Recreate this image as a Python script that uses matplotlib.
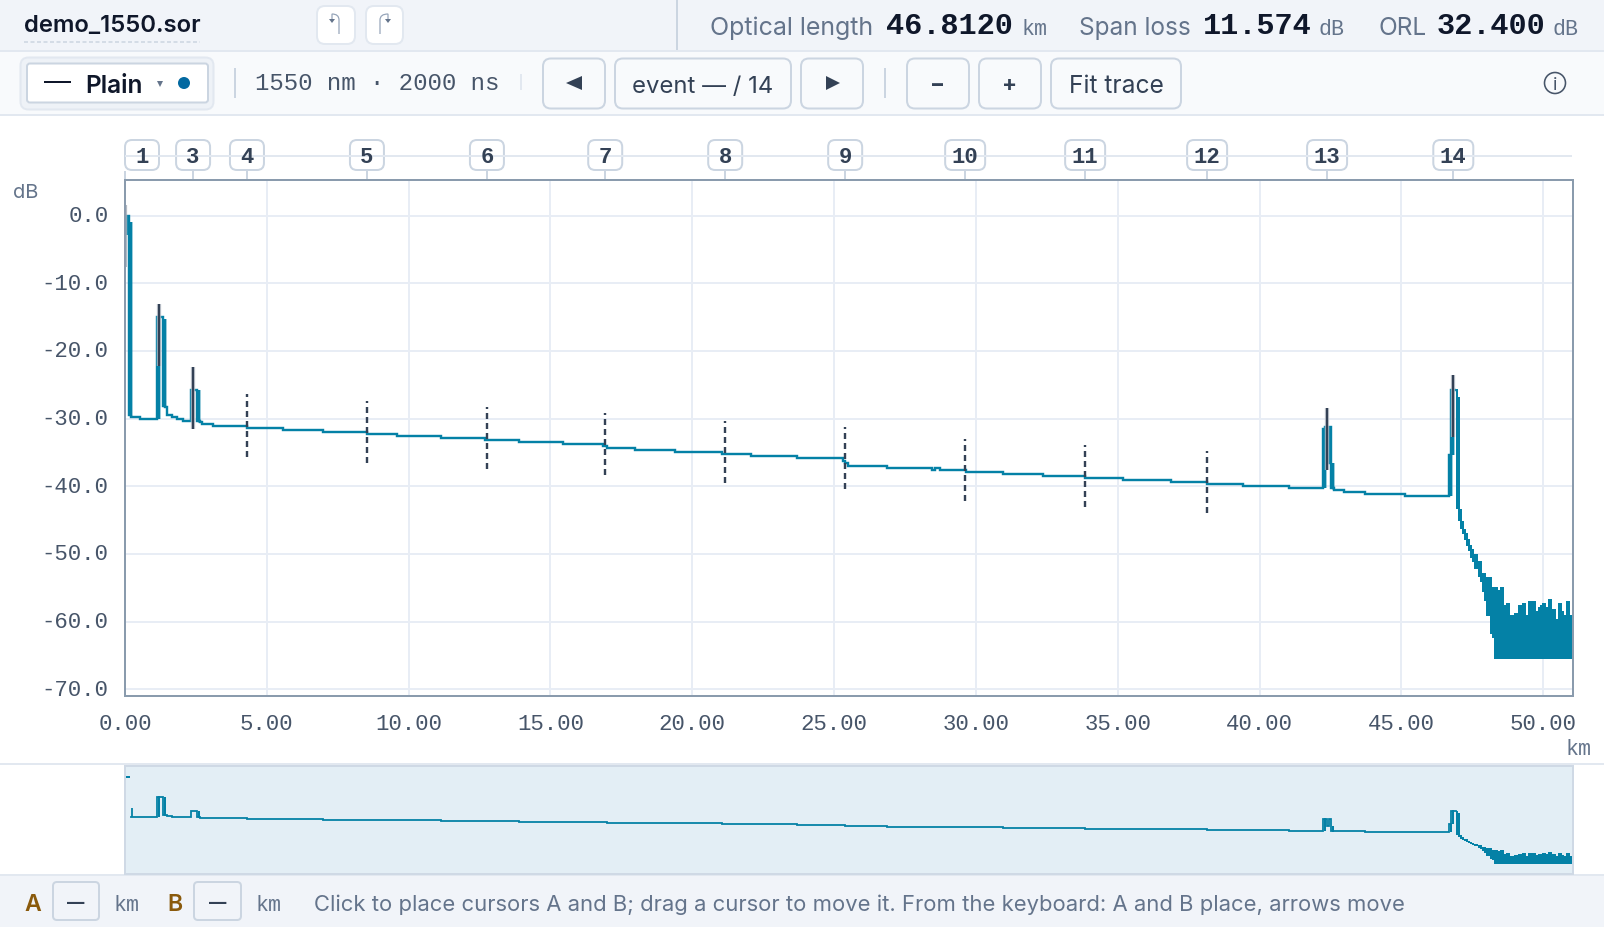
import matplotlib
matplotlib.use("Agg")
import matplotlib.pyplot as plt
from matplotlib.patches import FancyBboxPatch, Circle, Polygon, PathPatch
from matplotlib.path import Path
from matplotlib.transforms import blended_transform_factory

plt.rcParams['lines.scale_dashes'] = False
plt.rcParams['axes.unicode_minus'] = False

SANS = ['Inter', 'Noto Sans', 'DejaVu Sans']
MONO = ['Liberation Mono', 'DejaVu Sans Mono']
W, H = 1604, 928
PX = 0.72

# ---------- data ----------
trace_km = [0.07, 0.07, 0.14, 0.14, 0.21, 0.21, 0.21, 0.53, 1.13, 1.13, 1.20, 1.20, 1.20, 1.34, 1.34, 1.41, 1.41, 1.41,
            1.47, 1.64, 1.82, 2.03, 2.34, 2.34, 2.54, 2.54, 2.61, 2.61, 2.61, 2.64, 2.70, 3.09, 4.30, 5.57, 6.98, 8.53,
            9.58, 11.13, 12.68, 13.88, 15.44, 16.86, 17.00, 17.97, 19.38, 21.05, 22.08, 23.69, 25.33, 25.40, 25.49,
            26.87, 28.45, 28.55, 28.72, 29.64, 30.96, 32.37, 33.84, 35.18, 36.88, 38.15, 39.40, 41.04, 42.25, 42.25,
            42.32, 42.32, 42.32, 42.39, 42.39, 42.46, 42.46, 42.53, 42.53, 42.60, 42.60, 42.60, 42.63, 42.96, 43.72,
            45.13, 46.69, 46.69, 46.76, 46.76, 46.76, 46.83, 46.83, 46.83, 46.90, 46.93]
trace_db = [-2.9, -0.05, -0.05, -29.4, -29.4, -0.9, -29.7, -30.05, -30.05, -15.05, -15.05, -30.05, -15.05, -15.3, -28.2,
            -28.2, -15.3, -28.3, -29.45, -29.75, -30.05, -30.4, -30.4, -25.75, -25.75, -30.3, -30.3, -25.75, -30.3,
            -30.55, -30.8, -31.1, -31.4, -31.7, -32.0, -32.3, -32.55, -32.85, -33.15, -33.45, -33.75, -34.05, -34.3,
            -34.6, -34.9, -35.2, -35.5, -35.8, -36.2, -36.6, -37.0, -37.3, -37.6, -37.3, -37.6, -37.9, -38.2, -38.5,
            -38.75, -39.05, -39.35, -39.65, -39.95, -40.25, -40.25, -31.55, -31.55, -40.25, -31.2, -31.2, -36.6, -36.6,
            -31.2, -31.2, -40.2, -40.2, -36.6, -40.3, -40.5, -40.8, -41.1, -41.4, -41.4, -35.4, -35.4, -41.4, -25.75,
            -25.75, -35.4, -25.75, -25.75, -25.75]

tail_km = [46.93, 47.00, 47.07, 47.14, 47.21, 47.28, 47.36, 47.43, 47.50, 47.57, 47.64, 47.71, 47.78, 47.85, 47.92,
           47.99, 48.06, 48.13, 48.20, 48.27, 48.34, 48.41, 48.48, 48.55, 48.62, 48.69, 48.76, 48.83, 48.90, 48.97,
           49.04, 49.11, 49.18, 49.25, 49.32, 49.40, 49.47, 49.54, 49.61, 49.68, 49.75, 49.82, 49.89, 49.96, 50.03,
           50.10, 50.17, 50.24, 50.31, 50.38, 50.45, 50.52, 50.59, 50.66, 50.73, 50.80, 50.87, 50.94, 51.05]
tail_top = [-25.6, -26.8, -43.3, -45.1, -46.3, -46.9, -47.8, -48.7, -49.3, -50.0, -50.0, -51.0, -51.0, -52.8, -52.8,
            -53.4, -53.4, -53.4, -54.9, -54.9, -54.9, -55.4, -54.9, -54.9, -57.5, -57.2, -57.2, -59.0, -59.0, -58.7,
            -58.7, -57.5, -57.5, -57.2, -57.2, -59.0, -57.0, -57.0, -57.0, -57.0, -58.4, -57.9, -57.5, -57.2, -57.2,
            -57.9, -56.6, -56.6, -58.1, -58.1, -59.6, -57.2, -57.2, -58.4, -59.0, -57.0, -57.0, -59.0, -59.0]
tail_bot = [-43.3, -45.1, -46.3, -47.0, -48.0, -48.8, -49.5, -50.6, -51.2, -52.2, -52.2, -53.4, -54.2, -55.7, -56.9,
            -59.2, -59.2, -61.8, -62.5, -65.5, -65.5, -65.5, -65.5, -65.5, -65.5, -65.5, -65.5, -65.5, -65.5, -65.5,
            -65.5, -65.5, -65.5, -65.5, -65.5, -65.5, -65.5, -65.5, -65.5, -65.5, -65.5, -65.5, -65.5, -65.5, -65.5,
            -65.5, -65.5, -65.5, -65.5, -65.5, -65.5, -65.5, -65.5, -65.5, -65.5, -65.5, -65.5, -65.5, -65.5]

event_names = ['1', '', '3', '4', '5', '6', '7', '8', '9', '10', '11', '12', '13', '14']
event_km = [0.0, 1.20, 2.40, 4.30, 8.53, 12.76, 16.93, 21.16, 25.39, 29.62, 33.85, 38.15, 42.38, 46.83]
event_db = [-3.05, -17.6, -26.9, -31.0, -31.95, -32.85, -33.75, -34.9, -35.8, -37.55, -38.45, -39.35, -33.0, -28.1]
event_reflective = [True, True, True, False, False, False, False, False, False, False, False, False, True, True]
event_half_span = 4.6

x_ticks = [0, 5, 10, 15, 20, 25, 30, 35, 40, 45, 50]
x_labels = ['0.00', '5.00', '10.00', '15.00', '20.00', '25.00', '30.00', '35.00', '40.00', '45.00', '50.00']
y_ticks = [0, -10, -20, -30, -40, -50, -60, -70]
y_labels = ['0.0', '-10.0', '-20.0', '-30.0', '-40.0', '-50.0', '-60.0', '-70.0']

overview_head_km = [0.05, 0.16]
overview_head_db = [0.0, 0.0]
overview_lead_km = [0.23, 0.23]
overview_lead_db = [-23.0, -29.7]
overview_skip = 6   # trace vertices before the overview picks it up

# ---------- colours ----------
TRACE = '#0481a6'
GRID = '#e8edf5'
SPINE = '#8a9bad'
INK = '#0f172a'
SLATE = '#334155'
MUTED = '#64748b'
TICK = '#475569'
LINE = '#cbd5e1'
AMBER = '#8a5a0c'

fig = plt.figure(figsize=(W / 100, H / 100), dpi=100, facecolor='white')

ui = fig.add_axes([0, 0, 1, 1], zorder=0)
ui.set_xlim(0, W)
ui.set_ylim(H, 0)
ui.axis('off')


def band(y0, y1, color):
    ui.fill_between([0, W], y0, y1, color=color, lw=0)


def hline(x0, x1, y, color, w=2, **kw):
    ui.plot([x0, x1], [y, y], color=color, lw=w * PX, solid_capstyle='butt', **kw)


def vline(x, y0, y1, color, w=2):
    ui.plot([x, x], [y0, y1], color=color, lw=w * PX, solid_capstyle='butt')


def box(x0, y0, x1, y1, face, edge, r=7, w=2):
    ui.add_patch(FancyBboxPatch((x0 + r, y0 + r), x1 - x0 - 2 * r, y1 - y0 - 2 * r,
                                boxstyle=f'round,pad={r},rounding_size={r}',
                                fc=face, ec=edge, lw=w * PX, mutation_aspect=1))


def label(x, y, s, size, color, fam=SANS, ha='left', weight='normal'):
    return ui.text(x, y, s, fontsize=size, color=color, family=fam, ha=ha, va='center_baseline', weight=weight)


# bands
band(0, 51.5, '#f1f4f9')
band(51.5, 115.5, '#f8fafc')
band(876, 928, '#f1f4f9')
hline(0, W, 51.5, '#e2e8f0')
hline(0, W, 115.5, '#e2e8f0')
hline(0, W, 765, '#e2e8f0')
hline(0, W, 876, '#e2e8f0')
vline(677, 0, 51, LINE)

# header
label(24, 24, 'demo_1550.sor', 17.2, INK, weight='semibold')
hline(24, 200, 43, LINE, 1.5, linestyle=(0, (4.0 * PX, 2.5 * PX)))
box(317, 7, 355, 45, 'white', '#e2e8f0', 8)
box(366, 7, 403, 45, 'white', '#e2e8f0', 8)
for xs, tip in ((339, 332), (380, 388)):
    ui.add_patch(PathPatch(Path([(xs, 35), (xs, 21), (xs, 15), (tip, 15), (tip, 22)],
                                [Path.MOVETO, Path.LINETO, Path.CURVE3, Path.CURVE3, Path.LINETO]),
                           fc='none', ec='#94a3b8', lw=1.2 * PX))
    ui.add_patch(Polygon([(tip - 3, 20), (tip + 3, 20), (tip, 24)], fc='#64748b', ec='none'))

label(710, 26, 'Optical length', 18.0, MUTED)
label(886, 23.5, '46.8120', 21.8, INK, MONO, weight='bold')
label(1021, 27, 'km', 15.6, MUTED, MONO)
label(1079, 26, 'Span loss', 17.6, MUTED)
label(1203, 23.5, '11.574', 21.8, INK, MONO, weight='bold')
label(1319, 27, 'dB', 15.6, MUTED, MONO)
label(1378, 26, 'ORL', 17.6, MUTED)
label(1437, 23.5, '32.400', 21.8, INK, MONO, weight='bold')
label(1553, 27, 'dB', 15.6, MUTED, MONO)

# toolbar
box(20.5, 58.5, 213.5, 110.5, '#eef2f7', '#e2e8f0', 8)
box(27, 64.5, 208, 103.5, 'white', LINE, 3)
hline(44, 71, 83, INK)
label(85, 84, 'Plain', 17.6, INK, weight='semibold')
ui.add_patch(Polygon([(157, 82), (163, 82), (160, 88)], fc=MUTED, ec='none'))
ui.add_patch(Circle((184, 84), 6, fc='#0369a1', ec='none'))
vline(235, 69, 99, LINE)
label(255, 81.5, '1550 nm \u00b7 2000 ns', 17.3, TICK, MONO)
vline(521, 75, 91, '#e2e8f0')
for x0, x1 in ((543, 605), (615, 791), (801, 863), (907, 969), (979, 1041), (1051, 1181)):
    box(x0, 59.5, x1, 109.5, '#f8fafc', LINE, 8)
ui.add_patch(Polygon([(566, 84), (582, 77), (582, 91)], fc=SLATE, ec='none'))
ui.add_patch(Polygon([(826, 77), (840, 84), (826, 91)], fc=SLATE, ec='none'))
label(702.5, 84, 'event \u2014 / 14', 17.2, SLATE, ha='center')
vline(885, 69, 99, LINE)
label(938, 83, '\u2212', 16, SLATE, ha='center', weight='bold')
label(1010, 83, '+', 16, SLATE, ha='center', weight='bold')
label(1116, 84, 'Fit trace', 17.7, SLATE, ha='center')
ui.add_patch(Circle((1555, 84), 10.5, fc='none', ec=TICK, lw=1.6 * PX))
label(1555, 84, 'i', 13, TICK, ha='center')

# event strip
hline(125, 1572, 157, '#e2e8f0')

# footer
label(24, 903, 'A', 16.6, AMBER, weight='semibold')
box(53, 883, 99, 921, '#f1f4f9', LINE, 4)
label(75.5, 902, '\u2014', 12.5, SLATE, ha='center', weight='bold')
label(113, 903, 'km', 15.6, MUTED, MONO)
label(167, 903, 'B', 16.6, AMBER, weight='semibold')
box(194, 883, 241, 921, '#f1f4f9', LINE, 4)
label(217.5, 902, '\u2014', 12.5, SLATE, ha='center', weight='bold')
label(256, 903, 'km', 15.6, MUTED, MONO)
label(314, 903, 'Click to place cursors A and B; drag a cursor to move it. From the keyboard: A and B place, arrows move',
      15.85, MUTED)

# ---------- main trace ----------
ax = fig.add_axes([125 / W, 1 - 697 / H, (1573 - 125) / W, (697 - 181) / H], zorder=2)
ax.patch.set_alpha(0)
ax.set_xlim(0, 51.05)
ax.set_ylim(-71.0, 5.27)
ax.set_xticks(x_ticks)
ax.set_xticklabels(x_labels)
ax.set_yticks(y_ticks)
ax.set_yticklabels(y_labels)
ax.tick_params(length=0, colors=TICK, labelsize=16.1)
ax.tick_params(axis='x', pad=12.2)
ax.tick_params(axis='y', pad=12.0)
for t in ax.get_xticklabels() + ax.get_yticklabels():
    t.set_family(MONO)
for t in ax.get_yticklabels():
    t.set_verticalalignment('center')
ax.grid(True, color=GRID, lw=2 * PX, zorder=0)
ax.set_axisbelow(True)
for s in ax.spines.values():
    s.set_color(SPINE)
    s.set_linewidth(2 * PX)
    s.set_zorder(6)

ax.step(trace_km, trace_db, where='post', color=TRACE, lw=2.4 * PX, solid_joinstyle='miter', solid_capstyle='butt', zorder=3)
ax.fill_between(tail_km, tail_top, tail_bot, step='post', color=TRACE, lw=0, zorder=3)

for km, db, refl in zip(event_km, event_db, event_reflective):
    lo, hi = db - event_half_span, db + event_half_span
    if refl:
        ax.plot([km, km], [lo, hi], color='#cbd0d8', lw=4.4 * PX, solid_capstyle='butt', zorder=4, alpha=0.8)
        ax.plot([km, km], [lo, hi], color=SLATE, lw=2.4 * PX, solid_capstyle='butt', zorder=5)
    else:
        ax.plot([km, km], [lo, hi], color=SLATE, lw=2.4 * PX, linestyle=(0, (6 * PX, 4 * PX)),
                dash_capstyle='butt', zorder=5)

label(13, 191, 'dB', 14.5, MUTED, SANS)
label(1566, 747, 'km', 15.6, MUTED, MONO)

# event labels in pixel position of their km
strip = blended_transform_factory(ax.transData, ui.transData)
fig.canvas.draw()
for name, km in zip(event_names, event_km):
    if not name:
        continue
    ax.plot([km, km], [172, 181], transform=strip, color=LINE, lw=2 * PX, clip_on=False, solid_capstyle='butt', zorder=1)
    cx = ax.transData.transform((km, 0))[0]
    half = 17 if len(name) == 1 else 20
    cx = max(cx, 125 + half)
    box(cx - half, 141, cx + half, 171, 'white', LINE, 7)
    label(cx, 155, name, 16, SLATE, MONO, ha='center', weight='bold')

# ---------- overview ----------
ov = fig.add_axes([125 / W, 1 - 875 / H, (1573 - 125) / W, (875 - 767) / H], zorder=1)
ov.set_facecolor('#e3eef5')
ov.set_xlim(0, 51.05)
ov.set_ylim(-72.9, 8.3)
ov.set_xticks([])
ov.set_yticks([])
for s in ov.spines.values():
    s.set_color('#cfd9e5')
    s.set_linewidth(2 * PX)
ov.plot(overview_head_km, overview_head_db, color=TRACE, lw=2 * PX, solid_capstyle='butt')
ov.plot(overview_lead_km, overview_lead_db, color=TRACE, lw=1.8 * PX, solid_capstyle='butt')
ov.step(trace_km[overview_skip:], trace_db[overview_skip:], where='post', color=TRACE, lw=1.8 * PX,
        solid_joinstyle='miter')
ov.fill_between(tail_km, tail_top, tail_bot, step='post', color=TRACE, lw=0)

fig.savefig('out.png', dpi=100, facecolor='white')
